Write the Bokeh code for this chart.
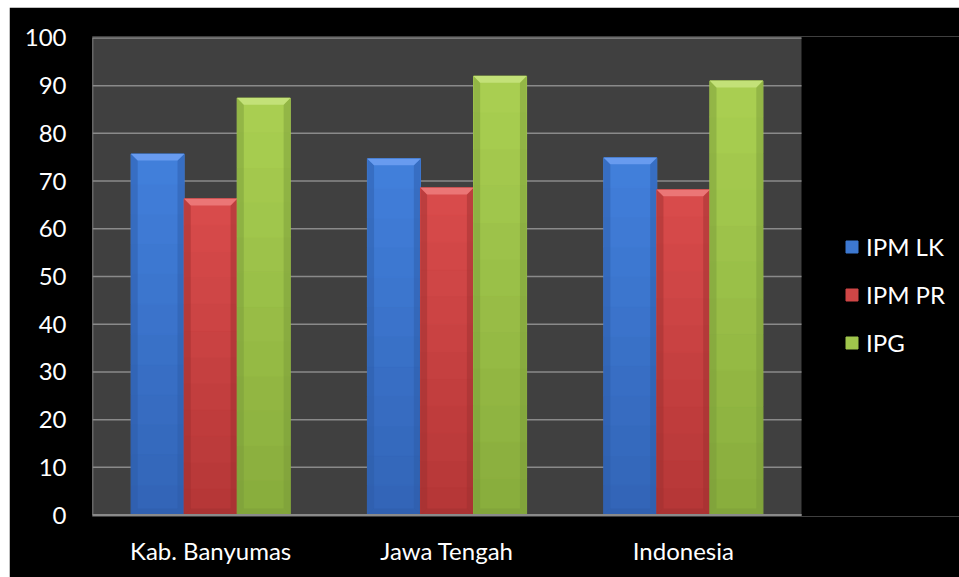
from bokeh.plotting import figure
from bokeh.models import Range1d, Legend, LegendItem, FixedTicker
from bokeh.embed import file_html
from bokeh.resources import INLINE

# ---- data ----
categories = ["Kab. Banyumas", "Jawa Tengah", "Indonesia"]
series_names = ["IPM LK", "IPM PR", "IPG"]
ipm_lk = [75.7, 74.7, 74.9]
ipm_pr = [66.3, 68.6, 68.2]
ipg = [87.4, 92.0, 91.0]
y_ticks = [0, 10, 20, 30, 40, 50, 60, 70, 80, 90, 100]

# ---- style ----
FONT = "Lato"
FS = "24px"
series_values = [ipm_lk, ipm_pr, ipg]
top_cols = [(66, 128, 220), (218, 76, 76), (170, 208, 82)]
bot_cols = [(50, 100, 182), (180, 54, 54), (136, 172, 60)]
bevel_cols = ["#6a9df0", "#ec7878", "#c4e27a"]
side_cols = ["#2c5aa6", "#9c2e2e", "#77993a"]
BAR_W = 0.2245
INSET = 0.028      # ~6.5px
BEVEL_H = 1.4      # ~6.5px
N_BANDS = 12
GRID = "#8a8a8a"

n_cat = len(categories)
y_max = y_ticks[-1]
# frame spans plot area plus legend area on the right (867 px, plot area 709 px)
x_end = n_cat * 867 / 709

p = figure(
    x_range=Range1d(0, x_end),
    y_range=Range1d(-0.3, y_max + 0.3),
    width=950, height=570,
    output_backend="svg", toolbar_location=None,
    min_border_left=83, min_border_right=0, min_border_top=29, min_border_bottom=61,
)
p.margin = (7, 0, 0, 9)
p.background_fill_color = "black"
p.border_fill_color = "black"
p.outline_line_color = None

# plot area background and grid
p.quad(left=[0], right=[n_cat], bottom=[0], top=[y_max], fill_color="#404040", line_color=None)
p.segment(x0=[0] * len(y_ticks), x1=[n_cat] * len(y_ticks), y0=y_ticks, y1=y_ticks,
          line_color=GRID, line_width=1.5)

def hexc(c):
    return "#%02x%02x%02x" % tuple(int(round(v)) for v in c)

legend_items = []
for s, (name, vals) in enumerate(zip(series_names, series_values)):
    off = (s - 1) * BAR_W
    centers = [i + 0.5 + off for i in range(n_cat)]
    lefts = [c - BAR_W / 2 for c in centers]
    rights = [c + BAR_W / 2 for c in centers]
    xs, bots, tops, cols = [], [], [], []
    for c, v in zip(centers, vals):
        for k in range(N_BANDS):
            t = (k + 0.5) / N_BANDS
            col = tuple(bot_cols[s][j] + (top_cols[s][j] - bot_cols[s][j]) * t for j in range(3))
            xs.append(c)
            bots.append(v * k / N_BANDS)
            tops.append(v * (k + 1) / N_BANDS)
            cols.append(hexc(col))
    body = p.vbar(x=xs, bottom=bots, top=tops, width=BAR_W,
                  fill_color=cols, line_color=cols, line_width=1)
    lx, rx = [], []
    for l, r, v in zip(lefts, rights, vals):
        lx.append(([l, l + INSET, l + INSET, l], [0, BEVEL_H, v - BEVEL_H, v]))
        rx.append(([r, r - INSET, r - INSET, r], [0, BEVEL_H, v - BEVEL_H, v]))
    p.patches(xs=[a[0] for a in lx + rx], ys=[a[1] for a in lx + rx],
              fill_color=side_cols[s], fill_alpha=0.45, line_color=None)
    tx = [[l, r, r - INSET, l + INSET] for l, r in zip(lefts, rights)]
    ty = [[v, v, v - BEVEL_H, v - BEVEL_H] for v in vals]
    p.patches(xs=tx, ys=ty, fill_color=bevel_cols[s], fill_alpha=0.95, line_color=None)
    by = [[0, 0, BEVEL_H, BEVEL_H] for v in vals]
    p.patches(xs=tx, ys=by, fill_color=side_cols[s], fill_alpha=0.4, line_color=None)
    legend_items.append(LegendItem(label=name, renderers=[body], index=N_BANDS * 2 // 3))

# axis lines bounding the plot area only
p.segment(x0=[0], x1=[n_cat], y0=[0], y1=[0], line_color=GRID, line_width=2)
p.segment(x0=[0], x1=[0], y0=[0], y1=[y_max], line_color=GRID, line_width=1.5)

# axes
p.xaxis.ticker = FixedTicker(ticks=[i + 0.5 for i in range(n_cat)])
p.xaxis.major_label_overrides = {i + 0.5: c for i, c in enumerate(categories)}
p.xaxis.axis_line_color = None
p.xaxis.major_tick_line_color = None
p.xaxis.minor_tick_line_color = None
p.xaxis.major_label_text_color = "white"
p.xaxis.major_label_text_font = FONT
p.xaxis.major_label_text_font_size = FS
p.xaxis.major_label_standoff = 13

p.yaxis.ticker = FixedTicker(ticks=y_ticks)
p.yaxis.major_tick_line_color = None
p.yaxis.minor_tick_line_color = None
p.yaxis.axis_line_color = None
p.yaxis.major_label_text_color = "white"
p.yaxis.major_label_text_font = FONT
p.yaxis.major_label_text_font_size = FS
p.yaxis.major_label_standoff = 20

p.xgrid.grid_line_color = None
p.ygrid.grid_line_color = None

legend = Legend(items=legend_items, location=(752, 159), orientation="vertical",
                background_fill_alpha=0, border_line_alpha=0,
                label_text_color="white", label_text_font=FONT, label_text_font_size=FS,
                glyph_width=15, glyph_height=15, label_standoff=7,
                label_height=25, spacing=19, padding=0, margin=0)
p.add_layout(legend, "center")

open("out.html", "w").write(file_html(p, INLINE))
